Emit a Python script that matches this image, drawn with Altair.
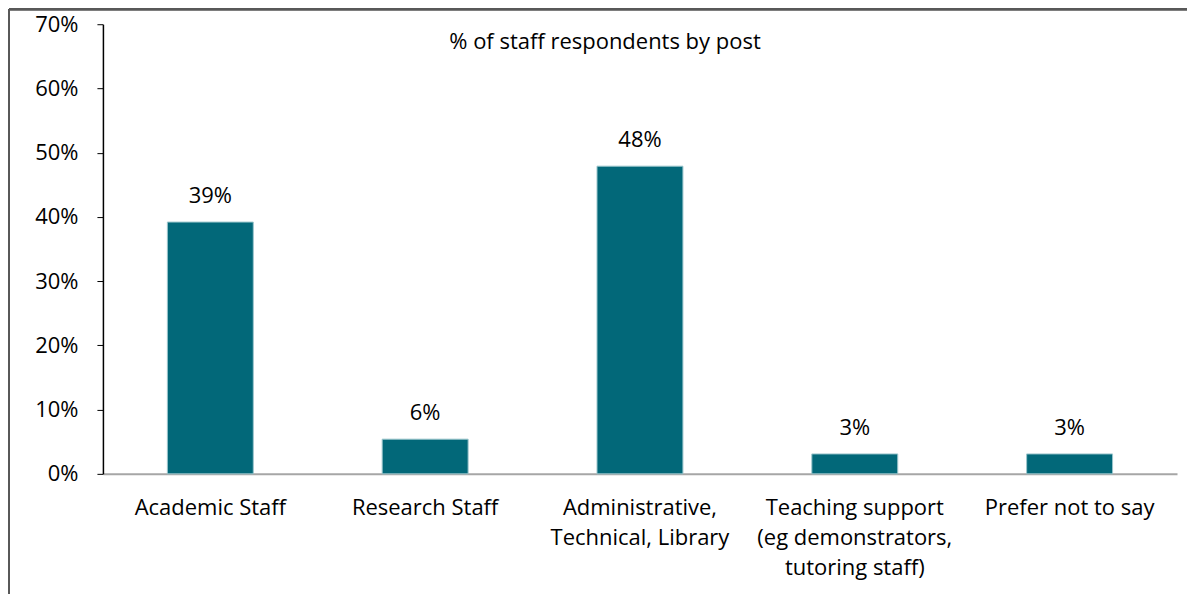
import altair as alt
import pandas as pd

categories = ["Academic Staff", "Research Staff", "Administrative,|Technical, Library",
              "Teaching support|(eg demonstrators,|tutoring staff)", "Prefer not to say"]
values = [39.2, 5.4, 47.9, 3.1, 3.1]
value_labels = ["39%", "6%", "48%", "3%", "3%"]

df = pd.DataFrame({"cat": categories, "val": [v / 100 for v in values], "lab": value_labels})

FONT = "Open Sans"
FS = 22
W, H = 1075, 450

x = alt.X("cat:N", sort=categories, title=None,
          scale=alt.Scale(paddingInner=0.6, paddingOuter=0.3),
          axis=alt.Axis(labelExpr="split(datum.label, '|')", labelAngle=0,
                        labelFont=FONT, labelFontSize=FS, labelColor="#000000",
                        labelLineHeight=30, labelPadding=34, ticks=False, labelLimit=400,
                        domainColor="#a6a6a6", domainWidth=2, labelBaseline="middle"))
y = alt.Y("val:Q", title=None,
          scale=alt.Scale(domain=[0, 0.7], nice=False),
          axis=alt.Axis(format=".0%", values=[0, 0.1, 0.2, 0.3, 0.4, 0.5, 0.6, 0.7],
                        labelFont=FONT, labelFontSize=FS, labelColor="#000000",
                        tickColor="#000000", tickSize=6, labelPadding=19,
                        domainColor="#000000", domainWidth=1.5, grid=False))

bars = alt.Chart(df).mark_bar(color="#026879", stroke="#9cc6cc", strokeWidth=1).encode(x=x, y=y)
texts = alt.Chart(df).mark_text(font=FONT, fontSize=FS, baseline="bottom", dy=-14,
                                color="#000000").encode(x=x, y=y, text="lab:N")

frame_left = alt.Chart(df).mark_rule(color="#595959", strokeWidth=2).encode(
    x=alt.value(-94), y=alt.value(-15), y2=alt.value(H + 150))
frame_top = alt.Chart(df).mark_rule(color="#595959", strokeWidth=2).encode(
    x=alt.value(-94), x2=alt.value(W + 100), y=alt.value(-15))

chart = alt.layer(frame_left, frame_top, bars, texts).properties(
    width=W, height=H,
    autosize=alt.AutoSizeParams(type="none"),
    padding={"left": 95, "top": 16, "right": 10, "bottom": 120},
    title=alt.Title("% of staff respondents by post", font=FONT, fontSize=FS,
                    fontWeight="normal", color="#000000", anchor="middle",
                    offset=-46, dx=-35),
).configure_view(stroke=None)

chart.save("out.html", embed_options={"renderer": "svg", "actions": False})
